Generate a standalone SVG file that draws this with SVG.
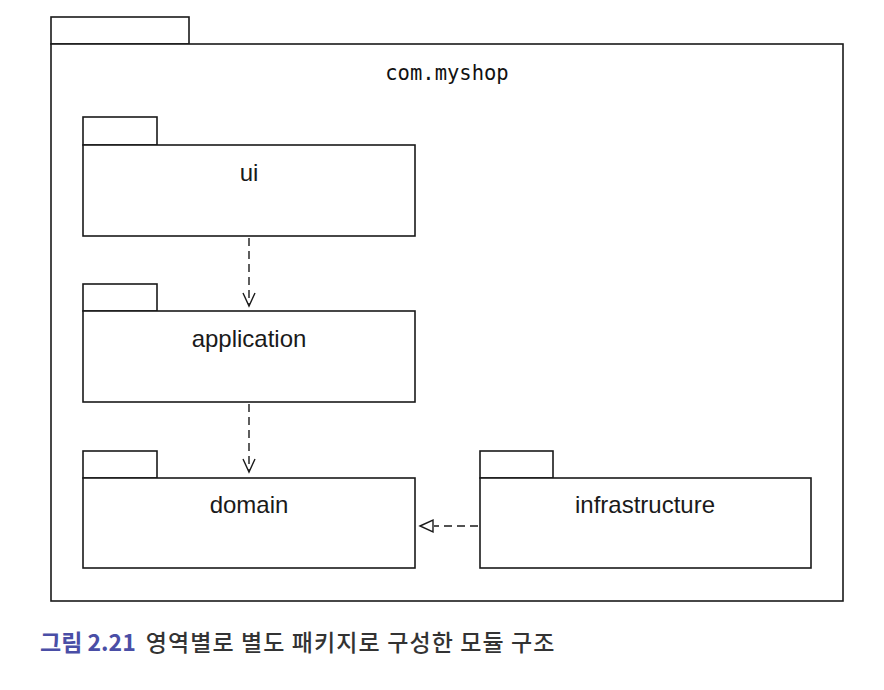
<svg xmlns="http://www.w3.org/2000/svg" width="884" height="690" viewBox="0 0 884 690">
<style>
.box{fill:#fff;stroke:#1a1a1a;stroke-width:1.6}
.lbl{font-family:"Liberation Sans",Arial,sans-serif;font-size:24px;fill:#1a1a1a;text-anchor:middle}
.mono{font-family:"DejaVu Sans Mono",monospace;font-size:20.5px;fill:#111;text-anchor:middle}
.dep{fill:none;stroke:#1a1a1a;stroke-width:1.4;stroke-dasharray:8 5}
.head{fill:none;stroke:#1a1a1a;stroke-width:1.4}
</style>
<rect width="884" height="690" fill="#fff"/>
<g id="com.myshop">
<rect class="box" x="51" y="17" width="138" height="27"/>
<rect class="box" x="51" y="44" width="792" height="557"/>
<text class="mono" x="447" y="80">com.myshop</text>
</g>
<g id="ui">
<rect class="box" x="83" y="117" width="74" height="28"/>
<rect class="box" x="83" y="145" width="332" height="91"/>
<text class="lbl" x="249" y="181">ui</text>
</g>
<g id="application">
<rect class="box" x="83" y="284" width="74" height="27"/>
<rect class="box" x="83" y="311" width="332" height="91"/>
<text class="lbl" x="249" y="347">application</text>
</g>
<g id="domain">
<rect class="box" x="83" y="451" width="74" height="27"/>
<rect class="box" x="83" y="478" width="332" height="90"/>
<text class="lbl" x="249" y="513">domain</text>
</g>
<g id="infrastructure">
<rect class="box" x="480" y="451" width="73" height="27"/>
<rect class="box" x="480" y="478" width="331" height="90"/>
<text class="lbl" x="645" y="513">infrastructure</text>
</g>
<g id="connectors">
<line class="dep" x1="249" y1="238" x2="249" y2="305"/>
<polyline class="head" points="243,293 249,306 255,293"/>
<line class="dep" x1="249" y1="404" x2="249" y2="471"/>
<polyline class="head" points="243,459 249,472 255,459"/>
<line class="dep" x1="478" y1="526" x2="434" y2="526" stroke-dasharray="9 6"/>
<polygon class="head" points="420,526 433,520 433,532"/>
</g>
<text x="40" y="651" font-family="'Noto Sans CJK KR',sans-serif" font-size="23" font-weight="bold"><tspan fill="#4a4ea6">그림 2.21</tspan><tspan fill="#333" font-weight="500" dx="10" letter-spacing="1.1">영역별로 별도 패키지로 구성한 모듈 구조</tspan></text>
</svg>
